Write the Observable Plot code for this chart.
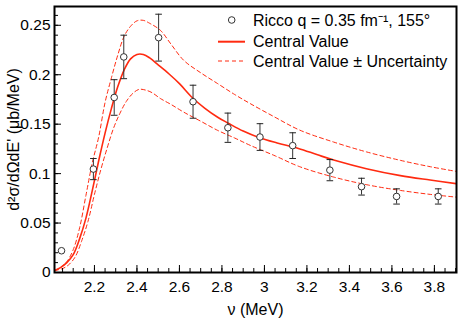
<!DOCTYPE html>
<html><head><meta charset="utf-8">
<script src="https://cdn.jsdelivr.net/npm/d3@7"></script>
<script src="https://cdn.jsdelivr.net/npm/@observablehq/plot@0.6"></script>
<style>
html,body{margin:0;padding:0;background:#fff;}
#wrap{position:relative;width:463px;height:327px;font-family:"Liberation Sans",Arial,Helvetica,sans-serif;}
#wrap svg{display:block;}
#legend{position:absolute;left:0;top:0;pointer-events:none;}
</style></head><body><div id="wrap"></div>
<script>
// ---- data ----
const pointX   = [2.045, 2.195, 2.293, 2.338, 2.502, 2.664, 2.828, 2.979, 3.133, 3.308, 3.457, 3.622, 3.818];
const pointY   = [0.022, 0.1046, 0.177, 0.218, 0.2375, 0.1727, 0.1464, 0.137, 0.1283, 0.1035, 0.0868, 0.0769, 0.0769];
const pointErr = [0, 0.0107, 0.018, 0.022, 0.0237, 0.0167, 0.0148, 0.0135, 0.013, 0.0107, 0.0085, 0.0077, 0.0077];

const centralX = [2.012, 2.04, 2.07, 2.10, 2.13, 2.16, 2.19, 2.22, 2.25, 2.28, 2.31, 2.34, 2.37, 2.40, 2.43, 2.46, 2.50, 2.55, 2.60, 2.66, 2.72, 2.78, 2.83, 2.90, 2.98, 3.06, 3.16, 3.25, 3.33, 3.48, 3.64, 3.78, 3.904];
const centralY = [0.002, 0.005, 0.010, 0.018, 0.034, 0.055, 0.083, 0.113, 0.141, 0.166, 0.188, 0.205, 0.216, 0.2205, 0.2205, 0.217, 0.210, 0.201, 0.191, 0.177, 0.166, 0.157, 0.151, 0.143, 0.136, 0.131, 0.1255, 0.119, 0.1135, 0.105, 0.098, 0.0935, 0.0898];

const upperX = [2.012, 2.04, 2.07, 2.10, 2.13, 2.16, 2.19, 2.22, 2.25, 2.28, 2.31, 2.34, 2.37, 2.40, 2.43, 2.46, 2.51, 2.56, 2.62, 2.70, 2.78, 2.86, 2.934, 3.05, 3.166, 3.326, 3.483, 3.64, 3.78, 3.904];
const upperY = [0.002, 0.005, 0.011, 0.023, 0.045, 0.078, 0.111, 0.137, 0.172, 0.197, 0.220, 0.239, 0.249, 0.2545, 0.2550, 0.252, 0.245, 0.231, 0.2146, 0.202, 0.191, 0.180, 0.1707, 0.157, 0.144, 0.1319, 0.1218, 0.1134, 0.107, 0.1022];

const lowerX = [2.012, 2.05, 2.08, 2.11, 2.14, 2.17, 2.20, 2.23, 2.26, 2.29, 2.32, 2.35, 2.38, 2.41, 2.44, 2.47, 2.51, 2.56, 2.62, 2.70, 2.78, 2.86, 2.934, 3.05, 3.166, 3.326, 3.483, 3.64, 3.78, 3.904];
const lowerY = [0.002, 0.004, 0.008, 0.016, 0.032, 0.052, 0.079, 0.104, 0.126, 0.146, 0.161, 0.173, 0.181, 0.1852, 0.1845, 0.182, 0.176, 0.170, 0.1622, 0.153, 0.1437, 0.136, 0.1285, 0.118, 0.107, 0.0965, 0.0887, 0.083, 0.079, 0.0762];

const xTicks = [2.2, 2.4, 2.6, 2.8, 3.0, 3.2, 3.4, 3.6, 3.8];
const xTickLabels = ["2.2", "2.4", "2.6", "2.8", "3", "3.2", "3.4", "3.6", "3.8"];
const yTicks = [0, 0.05, 0.1, 0.15, 0.2, 0.25];
const yTickLabels = ["0", "0.05", "0.1", "0.15", "0.2", "0.25"];

const xLabel = "ν (MeV)";
const yLabel = "d²σ/dΩdE' (μb/MeV)";
const legendLabels = ["Ricco q = 0.35 fm⁻¹, 155°", "Central Value", "Central Value ± Uncertainty"];

// ---- build tables ----
const points = pointX.map((x, i) => ({x, y: pointY[i], err: pointErr[i]}));
const central = centralX.map((x, i) => ({x, y: centralY[i]}));
const upper = upperX.map((x, i) => ({x, y: upperY[i]}));
const lower = lowerX.map((x, i) => ({x, y: lowerY[i]}));
const withErr = points.filter(d => d.err > 0);
const caps = withErr.flatMap(d => [{x: d.x, y: d.y - d.err}, {x: d.x, y: d.y + d.err}]);
const xMinor = d3.range(41, 79).map(i => +(i * 0.05).toFixed(2));
const yMinor = d3.range(0, 27).map(i => +(i * 0.01).toFixed(2));

const red = "#ff2a10";
const capSymbol = {draw(ctx, size) { const w = Math.sqrt(size / Math.PI); ctx.moveTo(-w, 0); ctx.lineTo(w, 0); }};
const font = '"Liberation Sans", Arial, Helvetica, sans-serif';

const chart = Plot.plot({
  width: 463, height: 327,
  marginTop: 6, marginRight: 7, marginBottom: 55, marginLeft: 54,
  style: {fontFamily: font, fontSize: "15.5px", color: "#000", background: "transparent", overflow: "visible"},
  x: {domain: [2.012, 3.904]},
  y: {domain: [0, 0.269]},
  marks: [
    Plot.line(upper, {x: "x", y: "y", stroke: red, strokeWidth: 1, strokeDasharray: "4,3", curve: "catmull-rom", clip: true}),
    Plot.line(lower, {x: "x", y: "y", stroke: red, strokeWidth: 1, strokeDasharray: "4,3", curve: "catmull-rom", clip: true}),
    Plot.line(central, {x: "x", y: "y", stroke: red, strokeWidth: 1.6, curve: "catmull-rom", clip: true}),
    Plot.ruleX(withErr, {x: "x", y1: d => d.y - d.err, y2: d => d.y + d.err, stroke: "#333", strokeWidth: 1}),
    Plot.dot(caps, {x: "x", y: "y", symbol: capSymbol, r: 3.3, stroke: "#222", strokeWidth: 1}),
    Plot.dot(points, {x: "x", y: "y", r: 3.3, stroke: "#333", fill: "#fff", strokeWidth: 1}),
    Plot.axisX({ticks: xMinor, tickSize: -4, fill: "none", stroke: "#000", label: null}),
    Plot.axisX({ticks: xTicks, tickSize: -7, fill: "none", stroke: "#000", label: null}),
    Plot.axisX({ticks: xTicks, tickSize: 0, tickPadding: 8, tickFormat: (d, i) => xTickLabels[i], label: null}),
    Plot.axisY({ticks: yMinor, tickSize: -4, fill: "none", stroke: "#000", label: null}),
    Plot.axisY({ticks: yTicks, tickSize: -7, fill: "none", stroke: "#000", label: null}),
    Plot.axisY({ticks: yTicks, tickSize: 0, tickPadding: 4, tickFormat: (d, i) => yTickLabels[i], label: null}),
    Plot.frame({stroke: "#000", strokeWidth: 2}),
    Plot.text([xLabel], {frameAnchor: "bottom", lineAnchor: "middle", textAnchor: "middle", dy: 37, fontSize: 16, fill: "#000"}),
    Plot.text([yLabel], {frameAnchor: "left", lineAnchor: "middle", textAnchor: "middle", dx: -41, rotate: -90, fontSize: 16, fill: "#000"})
  ]
});
const wrap = document.getElementById("wrap");
wrap.appendChild(chart);

// ---- legend overlay ----
const leg = d3.select(wrap).append("svg").attr("id", "legend").attr("width", 463).attr("height", 80)
  .style("font-family", font).style("font-size", "16px");
leg.append("circle").attr("cx", 231.7).attr("cy", 20).attr("r", 3.3).attr("fill", "#fff").attr("stroke", "#333");
leg.append("line").attr("x1", 218).attr("x2", 245).attr("y1", 41.7).attr("y2", 41.7).attr("stroke", red).attr("stroke-width", 2);
leg.append("line").attr("x1", 218).attr("x2", 245).attr("y1", 61).attr("y2", 61).attr("stroke", red).attr("stroke-width", 1).attr("stroke-dasharray", "4,3");
const baselines = [26.3, 47, 67];
legendLabels.forEach((t, i) => {
  leg.append("text").attr("x", 253).attr("y", baselines[i]).attr("fill", "#000").text(t);
});
</script>
</body></html>
